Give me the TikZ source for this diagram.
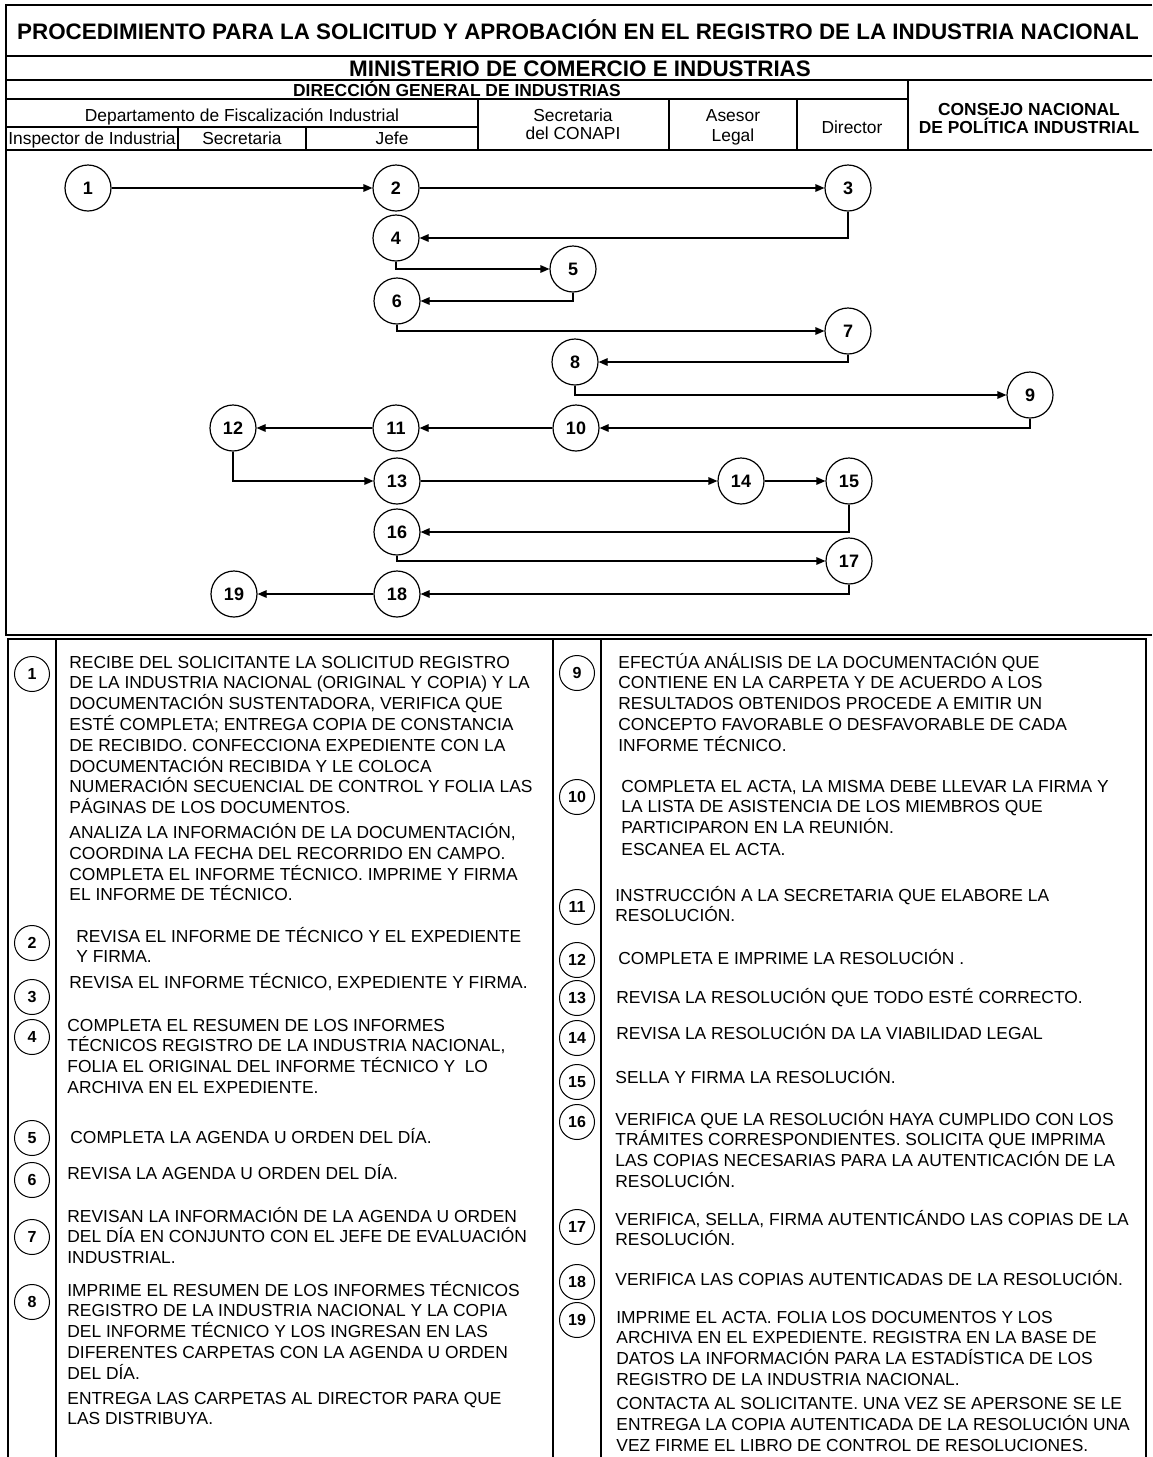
\documentclass[tikz,border=0pt]{standalone}
\usepackage{fontspec}
\setmainfont{Liberation Sans}
\usetikzlibrary{arrows.meta}
\tikzset{
  flow/.style={circle, draw, line width=0.6pt, minimum size=23pt, inner sep=0pt, font=\fontsize{9}{10}\selectfont\bfseries},
  num/.style={circle, draw, line width=0.5pt, minimum size=17.5pt, inner sep=0pt, font=\fontsize{8}{9}\selectfont\bfseries},
  desc/.style={anchor=base west, inner sep=0pt, font=\fontsize{8.7}{10.4}\selectfont},
  arr/.style={line width=0.6pt, -{Triangle[length=4.5pt,width=3.8pt]}},
  frame/.style={line width=0.7pt},
  rule/.style={line width=0.6pt},
  hbig/.style={anchor=base, inner sep=0pt, font=\fontsize{11.2}{13}\selectfont\bfseries},
  hbold/.style={anchor=base, inner sep=0pt, font=\fontsize{8.7}{10}\selectfont\bfseries},
  hreg/.style={anchor=base, inner sep=0pt, font=\fontsize{8.7}{10}\selectfont},
}
\newcommand{\desctext}[1]{\parbox[t]{262pt}{\raggedright #1}}
\newcommand{\hcell}[2]{\parbox[t]{#1}{\centering #2}}
\begin{document}
\begin{tikzpicture}[x=0.5pt,y=-0.5pt]
\useasboundingbox (0,0) rectangle (1152,1457);
\fill[white] (0,0) rectangle (1152,1457);

% ---------- header ----------
\draw[frame] (1152,5) -- (6,5) -- (6,635) -- (1152,635);
\draw[rule] (6,56) -- (1152,56);
\draw[rule] (6,80) -- (1152,80);
\draw[rule] (6,99) -- (908,99);
\draw[rule] (6,127) -- (478,127);
\draw[rule] (6,150) -- (1152,150);
\draw[rule] (178,127) -- (178,150);
\draw[rule] (306,127) -- (306,150);
\draw[rule] (478,99) -- (478,150);
\draw[rule] (669,99) -- (669,150);
\draw[rule] (797,99) -- (797,150);
\draw[rule] (908,80) -- (908,150);

\node[hbig] (title) at (578,39) {PROCEDIMIENTO PARA LA SOLICITUD Y APROBACIÓN EN EL REGISTRO DE LA INDUSTRIA NACIONAL};
\node[hbig] (mici) at (580,76) {MINISTERIO DE COMERCIO E INDUSTRIAS};
\node[hbold] (dgi) at (457,96) {DIRECCIÓN GENERAL DE INDUSTRIAS};
\node[hreg] (dfi) at (242,121) {Departamento de Fiscalización Industrial};
\node[hreg] (insp) at (92,144) {Inspector de Industria};
\node[hreg] (secr) at (242,144) {Secretaria};
\node[hreg] (jefe) at (392,144) {Jefe};
\node[hreg] (conapi) at (573,121) {\hcell{90pt}{Secretaria\\[-0.6pt]del CONAPI}};
\node[hreg] (asesor) at (733,121) {\hcell{60pt}{Asesor\\[0.4pt]Legal}};
\node[hreg] (dir) at (852,133) {Director};
\node[hbold] (consejo) at (1029,115) {\hcell{120pt}{CONSEJO NACIONAL\\[-0.6pt]DE POLÍTICA INDUSTRIAL}};

% ---------- flow ----------
\node[flow] (n1) at (88,188) {1};
\node[flow] (n2) at (396,188) {2};
\node[flow] (n3) at (848,188) {3};
\node[flow] (n4) at (396,238) {4};
\node[flow] (n5) at (573,269) {5};
\node[flow] (n6) at (397,301) {6};
\node[flow] (n7) at (848,331) {7};
\node[flow] (n8) at (575,362) {8};
\node[flow] (n9) at (1030,395) {9};
\node[flow] (n10) at (576,428) {10};
\node[flow] (n11) at (396,428) {11};
\node[flow] (n12) at (233,428) {12};
\node[flow] (n13) at (397,481) {13};
\node[flow] (n14) at (741,481) {14};
\node[flow] (n15) at (849,481) {15};
\node[flow] (n16) at (397,532) {16};
\node[flow] (n17) at (849,561) {17};
\node[flow] (n18) at (397,594) {18};
\node[flow] (n19) at (234,594) {19};

\draw[arr] (n1.east) -- (n2.west);
\draw[arr] (n2.east) -- (n3.west);
\draw[arr] (n3.south) |- (n4.east);
\draw[arr] (n4.south) |- (n5.west);
\draw[arr] (n5.south) |- (n6.east);
\draw[arr] (n6.south) |- (n7.west);
\draw[arr] (n7.south) |- (n8.east);
\draw[arr] (n8.south) |- (n9.west);
\draw[arr] (n9.south) |- (n10.east);
\draw[arr] (n10.west) -- (n11.east);
\draw[arr] (n11.west) -- (n12.east);
\draw[arr] (n12.south) |- (n13.west);
\draw[arr] (n13.east) -- (n14.west);
\draw[arr] (n14.east) -- (n15.west);
\draw[arr] (n15.south) |- (n16.east);
\draw[arr] (n16.south) |- (n17.west);
\draw[arr] (n17.south) |- (n18.east);
\draw[arr] (n18.west) -- (n19.east);

% ---------- description table ----------
\draw[frame] (8,1457) -- (8,639) -- (1146,639) -- (1146,1457);
\draw[rule] (56,639) -- (56,1457);
\draw[rule] (553,639) -- (553,1457);
\draw[rule] (601,639) -- (601,1457);

\node[num] (c1) at (32,674) {1};
\node[num] (c2) at (32,943) {2};
\node[num] (c3) at (32,997) {3};
\node[num] (c4) at (32,1037) {4};
\node[num] (c5) at (32,1138) {5};
\node[num] (c6) at (32,1180) {6};
\node[num] (c7) at (32,1237) {7};
\node[num] (c8) at (32,1302) {8};
\node[num] (c9) at (577,673) {9};
\node[num] (c10) at (577,797) {10};
\node[num] (c11) at (577,907) {11};
\node[num] (c12) at (577,960) {12};
\node[num] (c13) at (577,998) {13};
\node[num] (c14) at (577,1038) {14};
\node[num] (c15) at (577,1082) {15};
\node[num] (c16) at (577,1122) {16};
\node[num] (c17) at (577,1227) {17};
\node[num] (c18) at (577,1282) {18};
\node[num] (c19) at (577,1320) {19};

\node[desc] (d1) at (69,668) {\desctext{RECIBE DEL SOLICITANTE LA SOLICITUD REGISTRO\\
DE LA INDUSTRIA NACIONAL (ORIGINAL Y COPIA) Y LA\\
DOCUMENTACIÓN SUSTENTADORA, VERIFICA QUE\\
ESTÉ COMPLETA; ENTREGA COPIA DE CONSTANCIA\\
DE RECIBIDO. CONFECCIONA EXPEDIENTE CON LA\\
DOCUMENTACIÓN RECIBIDA Y LE COLOCA\\
NUMERACIÓN SECUENCIAL DE CONTROL Y FOLIA LAS\\
PÁGINAS DE LOS DOCUMENTOS.\\[2pt]
ANALIZA LA INFORMACIÓN DE LA DOCUMENTACIÓN,\\
COORDINA LA FECHA DEL RECORRIDO EN CAMPO.\\
COMPLETA EL INFORME TÉCNICO. IMPRIME Y FIRMA\\
EL INFORME DE TÉCNICO.}};
\node[desc] (d2) at (76,942) {\desctext{REVISA EL INFORME DE TÉCNICO Y EL EXPEDIENTE\\
Y FIRMA.}};
\node[desc] (d3) at (69,988) {\desctext{REVISA EL INFORME TÉCNICO, EXPEDIENTE Y FIRMA.}};
\node[desc] (d4) at (67,1031) {\desctext{COMPLETA EL RESUMEN DE LOS INFORMES\\
TÉCNICOS REGISTRO DE LA INDUSTRIA NACIONAL,\\
FOLIA EL ORIGINAL DEL INFORME TÉCNICO Y \ LO\\
ARCHIVA EN EL EXPEDIENTE.}};
\node[desc] (d5) at (70,1143) {\desctext{COMPLETA LA AGENDA U ORDEN DEL DÍA.}};
\node[desc] (d6) at (67,1179) {\desctext{REVISA LA AGENDA U ORDEN DEL DÍA.}};
\node[desc] (d7) at (67,1222) {\desctext{REVISAN LA INFORMACIÓN DE LA AGENDA U ORDEN\\
DEL DÍA EN CONJUNTO CON EL JEFE DE EVALUACIÓN\\
INDUSTRIAL.}};
\node[desc] (d8) at (67,1296) {\desctext{IMPRIME EL RESUMEN DE LOS INFORMES TÉCNICOS\\
REGISTRO DE LA INDUSTRIA NACIONAL Y LA COPIA\\
DEL INFORME TÉCNICO Y LOS INGRESAN EN LAS\\
DIFERENTES CARPETAS CON LA AGENDA U ORDEN\\
DEL DÍA.\\[2pt]
ENTREGA LAS CARPETAS AL DIRECTOR PARA QUE\\
LAS DISTRIBUYA.}};

\node[desc] (d9) at (618,668) {\desctext{EFECTÚA ANÁLISIS DE LA DOCUMENTACIÓN QUE\\
CONTIENE EN LA CARPETA Y DE ACUERDO A LOS\\
RESULTADOS OBTENIDOS PROCEDE A EMITIR UN\\
CONCEPTO FAVORABLE O DESFAVORABLE DE CADA\\
INFORME TÉCNICO.}};
\node[desc] (d10) at (621,792) {\desctext{COMPLETA EL ACTA, LA MISMA DEBE LLEVAR LA FIRMA Y\\
LA LISTA DE ASISTENCIA DE LOS MIEMBROS QUE\\
PARTICIPARON EN LA REUNIÓN.\\[0.6pt]
ESCANEA EL ACTA.}};
\node[desc] (d11) at (615,901) {\desctext{INSTRUCCIÓN A LA SECRETARIA QUE ELABORE LA\\
RESOLUCIÓN.}};
\node[desc] (d12) at (618,964) {\desctext{COMPLETA E IMPRIME LA RESOLUCIÓN .}};
\node[desc] (d13) at (616,1003) {\desctext{REVISA LA RESOLUCIÓN QUE TODO ESTÉ CORRECTO.}};
\node[desc] (d14) at (616,1039) {\desctext{REVISA LA RESOLUCIÓN DA LA VIABILIDAD LEGAL}};
\node[desc] (d15) at (615,1083) {\desctext{SELLA Y FIRMA LA RESOLUCIÓN.}};
\node[desc] (d16) at (615,1125) {\desctext{VERIFICA QUE LA RESOLUCIÓN HAYA CUMPLIDO CON LOS\\
TRÁMITES CORRESPONDIENTES. SOLICITA QUE IMPRIMA\\
LAS COPIAS NECESARIAS PARA LA AUTENTICACIÓN DE LA\\
RESOLUCIÓN.}};
\node[desc] (d17) at (615,1225) {\desctext{VERIFICA, SELLA, FIRMA AUTENTICÁNDO LAS COPIAS DE LA\\
RESOLUCIÓN.}};
\node[desc] (d18) at (615,1285) {\desctext{VERIFICA LAS COPIAS AUTENTICADAS DE LA RESOLUCIÓN.}};
\node[desc] (d19) at (616,1323) {\desctext{IMPRIME EL ACTA. FOLIA LOS DOCUMENTOS Y LOS\\
ARCHIVA EN EL EXPEDIENTE. REGISTRA EN LA BASE DE\\
DATOS LA INFORMACIÓN PARA LA ESTADÍSTICA DE LOS\\
REGISTRO DE LA INDUSTRIA NACIONAL.\\[1.6pt]
CONTACTA AL SOLICITANTE. UNA VEZ SE APERSONE SE LE\\
ENTREGA LA COPIA AUTENTICADA DE LA RESOLUCIÓN UNA\\
VEZ FIRME EL LIBRO DE CONTROL DE RESOLUCIONES.}};
\end{tikzpicture}
\end{document}
